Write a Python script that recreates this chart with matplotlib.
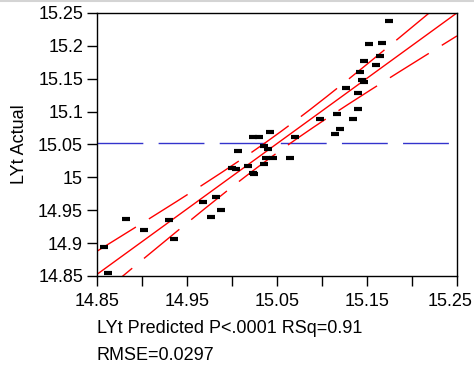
import numpy as np
import matplotlib
matplotlib.use("Agg")
import matplotlib.pyplot as plt
from matplotlib.lines import Line2D
from matplotlib.ticker import MultipleLocator, FuncFormatter

plt.rcParams['font.family'] = ['Liberation Sans', 'DejaVu Sans']

# predicted vs actual LYt
ly_pred = [14.8581, 14.8619, 14.8819, 14.9022, 14.9300, 14.9359, 14.9681, 14.9763,
           14.9819, 14.9881, 15.0000, 15.0044, 15.0063, 15.0181, 15.0239, 15.0245,
           15.0237, 15.0300, 15.0359, 15.0378, 15.0356, 15.0403, 15.0422, 15.0459,
           15.0641, 15.0700, 15.0981, 15.1141, 15.1200, 15.1163, 15.1341, 15.1403,
           15.1263, 15.1403, 15.1422, 15.1448, 15.1467, 15.1463, 15.1522, 15.1603,
           15.1641, 15.1663, 15.1744]
ly_actual = [14.8936, 14.8550, 14.9372, 14.9195, 14.9347, 14.9063, 14.9630, 14.9397,
             14.9706, 14.9504, 15.0147, 15.0123, 15.0401, 15.0173, 15.0059, 15.0045,
             15.0614, 15.0614, 15.0477, 15.0300, 15.0199, 15.0427, 15.0686, 15.0300,
             15.0300, 15.0610, 15.0888, 15.0660, 15.0736, 15.0968, 15.0888, 15.1044,
             15.1355, 15.1279, 15.1607, 15.1481, 15.1455, 15.1765, 15.2024, 15.1714,
             15.1841, 15.2048, 15.2383]
x_ticklabels = ['14.85', '14.95', '15.05', '15.15', '15.25']
rmse = 0.0297
crit = 3.1   # multiplier for the whole-model confidence curves

x = np.array(ly_pred)
y = np.array(ly_actual)
n = len(x)

# least squares fit + confidence curves
slope, icpt = np.polyfit(x, y, 1)
xs = np.linspace(14.85, 15.25, 200)
fit = icpt + slope * xs
sxx = np.sum((x - x.mean()) ** 2)
half = crit * rmse * np.sqrt(1.0 / n + (xs - x.mean()) ** 2 / sxx)

fig = plt.figure(figsize=(4.74, 3.68), dpi=100)
ax = fig.add_axes([0.2046, 0.25, 0.7595, 0.7147])

# thin grey rule along the top edge
fig.add_artist(Line2D([0, 1], [0.997, 0.997], transform=fig.transFigure,
                      color='#d4d4d4', lw=1.5))

ax.axhline(y.mean(), color='#3333cc', lw=1.0, dashes=(33, 11))
ax.plot(xs, fit, color='red', lw=1.0)
ax.plot(xs, fit + half, color='red', lw=1.0, dashes=(33, 11))
ax.plot(xs, fit - half, color='red', lw=1.0, dashes=(33, 11))
ax.plot(x, y, ls='none', marker='_', ms=5.5, mew=3, color='black')

ax.set_xlim(14.85, 15.25)
ax.set_ylim(14.85, 15.25)
ax.xaxis.set_major_locator(MultipleLocator(0.05))
ax.yaxis.set_major_locator(MultipleLocator(0.05))

# every other x tick labelled; the rightmost one is placed by hand below
def xfmt(v, pos):
    s = f'{v:.2f}'
    return s if s in x_ticklabels[:-1] else ''

def yfmt(v, pos):
    s = f'{v:.2f}'
    return s.rstrip('0').rstrip('.') if s.endswith('0') else s

ax.xaxis.set_major_formatter(FuncFormatter(xfmt))
ax.yaxis.set_major_formatter(FuncFormatter(yfmt))
ax.tick_params(direction='out', length=7, width=1, labelsize=13, color='black')
ax.tick_params(axis='x', pad=5)
ax.tick_params(axis='y', pad=3)
for s in ax.spines.values():
    s.set_linewidth(1.0)

# rightmost label nudged left so it stays on the canvas
ax.annotate(x_ticklabels[-1], xy=(float(x_ticklabels[-1]), 0),
            xycoords=('data', 'axes fraction'), xytext=(-5, -12),
            textcoords='offset points', ha='center', va='top', fontsize=13)

ax.set_ylabel('LYt Actual', fontsize=13, labelpad=7)
fig.text(0.2046, 0.106, 'LYt Predicted P<.0001 RSq=0.91', fontsize=13, va='center')
fig.text(0.2046, 0.033, 'RMSE=0.0297', fontsize=13, va='center')

fig.savefig('out.png', dpi=100)
